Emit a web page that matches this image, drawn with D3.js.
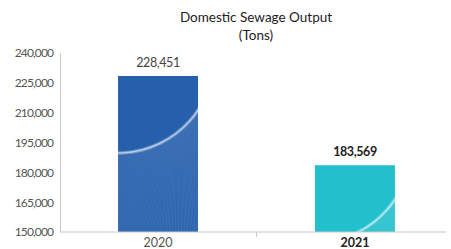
<!DOCTYPE html>
<html>
<head>
<meta charset="utf-8">
<script src="https://cdn.jsdelivr.net/npm/d3@7"></script>
<style>
  body { margin: 0; background: #fff; }
  svg text { font-family: Lato, "Open Sans", sans-serif; }
</style>
</head>
<body>
<script>
    // chart data
    var years = ["2020", "2021"];
    var output = [228451, 183569];
    var barColors = ["#2660ad", "#22bfcc"];
    var yTicks = [150000, 165000, 180000, 195000, 210000, 225000, 240000];

    var width = 451, height = 249;

    var svg = d3.select("body")
        .append("svg").attr("width", width).attr("height", height);

    var y = d3.scaleLinear().domain([150000, 240000]).range([232, 53]);
    var x = d3.scaleBand().domain(years).range([63.5, 449.5])
        .paddingInner(0.594).paddingOuter(0.277);

    // title
    svg.append("text").attr("x", 256).attr("y", 22).attr("text-anchor", "middle")
        .style("font-size", "13.5px").style("fill", "#222")
        .text("Domestic Sewage Output");
    svg.append("text").attr("x", 256).attr("y", 40).attr("text-anchor", "middle")
        .style("font-size", "13.5px").style("fill", "#222")
        .text("(Tons)");

    // y axis
    var yAxis = svg.append("g").attr("transform", "translate(60,0)")
        .call(d3.axisLeft(y).tickValues(yTicks).tickFormat(d3.format(",")).tickSize(0).tickPadding(7));
    yAxis.select(".domain").attr("stroke", "#c8c8c8");
    yAxis.selectAll("text").style("font-size", "12px").style("fill", "#555")
        .style("letter-spacing", "-0.9px")
        .style("font-family", "Lato, sans-serif");

    // bars
    var defs = svg.append("defs");
    var bars = svg.append("g");
    years.forEach(function(yr, i){
        var bx = x(yr), bw = x.bandwidth(), top = y(output[i]), bot = y(150000);
        defs.append("clipPath").attr("id", "clip" + i)
            .append("rect").attr("x", bx).attr("y", top).attr("width", bw).attr("height", bot - top);

        bars.append("rect").attr("x", bx).attr("y", top).attr("width", bw)
            .attr("height", bot - top).attr("fill", barColors[i]);

        // decorative swoosh, anchored to bar top-left
        var g = bars.append("g").attr("clip-path", "url(#clip" + i + ")");
        var cx = bx, cy = top - 19, R = 96;
        var n = 130;
        for (var k = 0; k <= n; k++) {
            var t = k / n;
            var a = Math.PI / 2 + 0.3 - t * 1.5;
            var px = cx + R * Math.cos(a), py = cy + R * Math.sin(a);
            var qx = cx - 90 + t * 230, qy = cy + R + 110;
            g.append("line")
                .attr("x1", px).attr("y1", py)
                .attr("x2", qx).attr("y2", qy)
                .attr("stroke", "#fff").attr("stroke-width", 0.4).attr("stroke-opacity", 0.24);
        }
        var arc = d3.path();
        arc.arc(cx, cy, R, Math.PI / 2 + 0.3, Math.PI / 2 - 1.2, true);
        g.append("path").attr("d", arc.toString()).attr("fill", "none")
            .attr("stroke", "#fff").attr("stroke-opacity", 0.3).attr("stroke-width", 3.5);
        g.append("path").attr("d", arc.toString()).attr("fill", "none")
            .attr("stroke", "#fff").attr("stroke-opacity", 0.55).attr("stroke-width", 1.2);

        // value label
        svg.append("text").attr("x", bx + bw / 2).attr("y", top - 9)
            .attr("text-anchor", "middle")
            .style("font-size", "12.5px")
            .style("letter-spacing", "-0.4px")
            .style("font-weight", i === 1 ? "bold" : "normal")
            .style("fill", i === 1 ? "#222" : "#444")
            .text(d3.format(",")(output[i]));

        // category label
        svg.append("text").attr("x", bx + bw / 2).attr("y", 247)
            .attr("text-anchor", "middle")
            .style("font-size", "12.5px")
            .style("font-weight", i === 1 ? "bold" : "normal")
            .style("fill", i === 1 ? "#222" : "#555")
            .text(yr);
    });

    // x axis line with separator tick
    svg.append("line").attr("x1", 60).attr("x2", 446).attr("y1", 232).attr("y2", 232)
        .attr("stroke", "#c8c8c8");
    svg.append("line").attr("x1", 256.5).attr("x2", 256.5).attr("y1", 232).attr("y2", 237)
        .attr("stroke", "#c8c8c8");
</script>
</body>
</html>
